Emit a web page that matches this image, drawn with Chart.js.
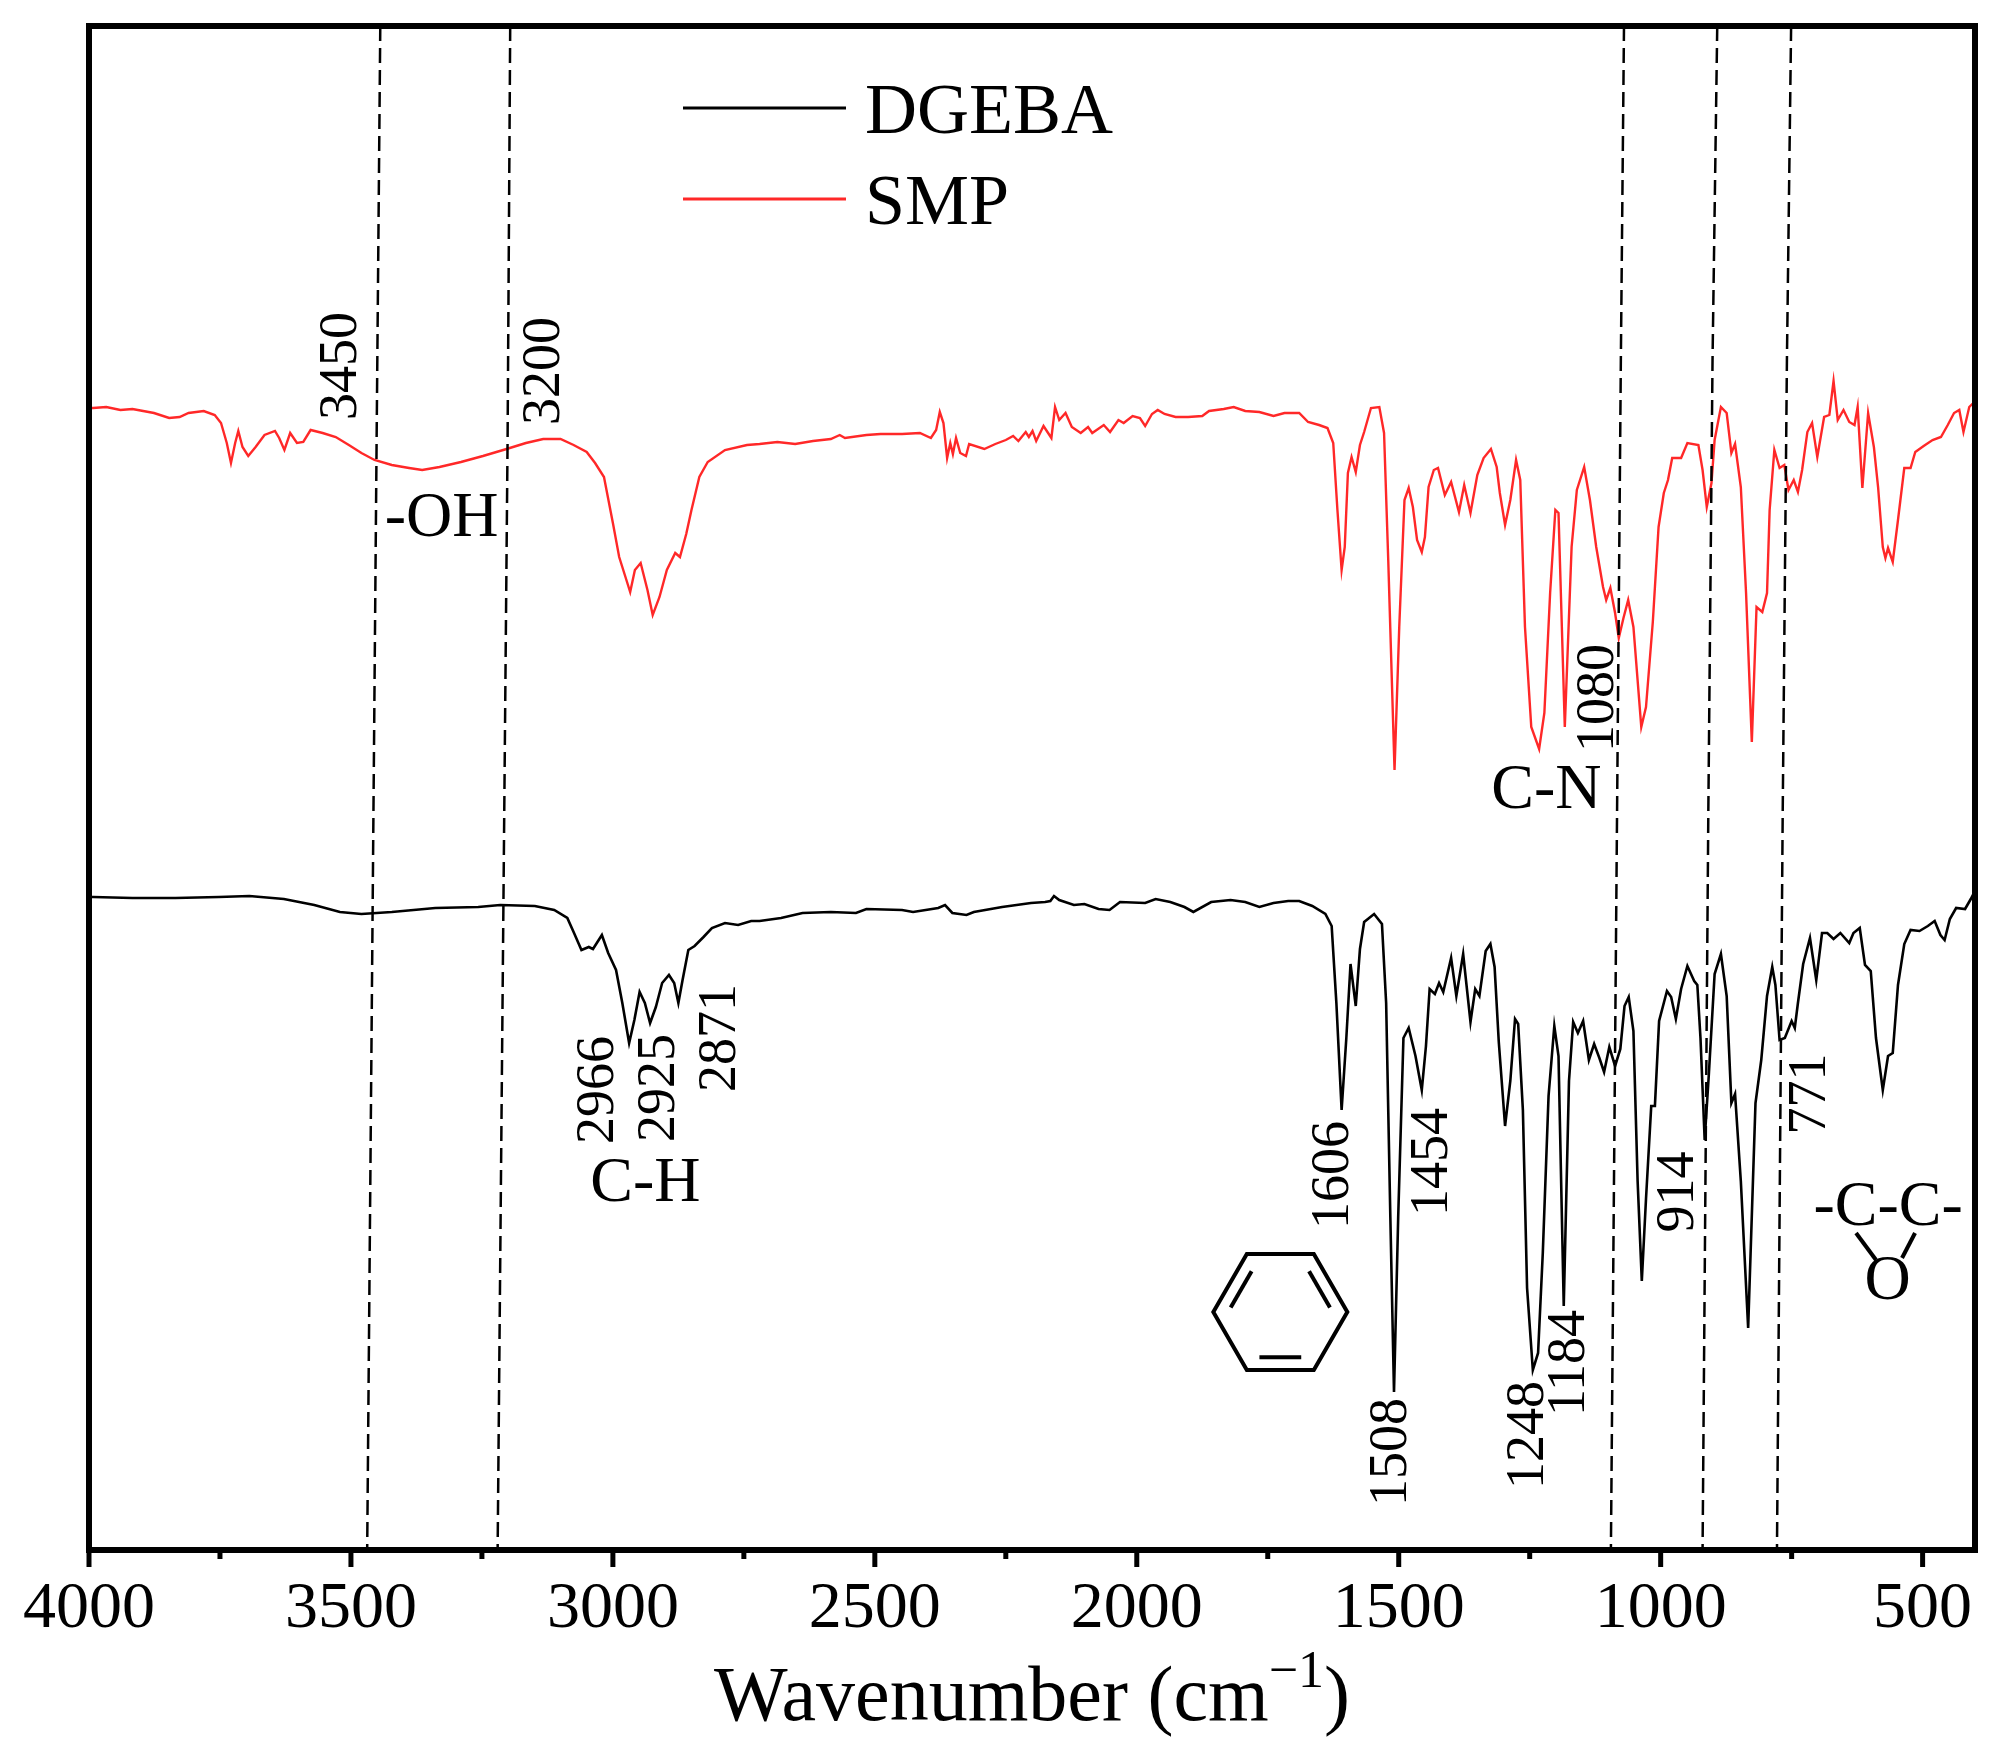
<!DOCTYPE html>
<html>
<head>
<meta charset="utf-8">
<script src="https://cdn.jsdelivr.net/npm/chart.js@4.4.1/dist/chart.umd.min.js"></script>
<style>
  html, body { margin: 0; padding: 0; background: #fff; }
</style>
</head>
<body>
<canvas id="ftir" width="2000" height="1746"></canvas>
<script>
const SERIF = '"Liberation Serif", "Times New Roman", serif';
const RED = 'rgb(255,40,40)';

/* x axis */
const tickValues = [4000, 3500, 3000, 2500, 2000, 1500, 1000, 500];
const tickLabels = ['4000', '3500', '3000', '2500', '2000', '1500', '1000', '500'];
const minorTicks = [3750, 3250, 2750, 2250, 1750, 1250, 750];

/* spectra: [wavenumber, transmittance (a.u.)] */
const smpPoints = [
  [4000,114.2],[3992,114.2],[3967,114.3],[3940,114.0],[3917,114.1],[3876,113.7],[3847,113.2],[3827,113.3],
  [3810,113.7],[3781,113.9],[3760,113.5],[3748,112.7],[3737,110.7],[3729,108.7],[3721,110.7],[3715,111.9],
  [3707,110.3],[3696,109.4],[3682,110.3],[3665,111.5],[3645,111.9],[3637,111.2],[3627,110.0],[3616,111.7],
  [3603,110.7],[3591,110.8],[3577,112.0],[3554,111.7],[3529,111.3],[3504,110.5],[3480,109.7],[3455,109.0],
  [3422,108.5],[3389,108.2],[3364,108.0],[3331,108.3],[3290,108.8],[3248,109.4],[3203,110.1],[3166,110.7],
  [3133,111.1],[3100,111.1],[3075,110.5],[3050,109.8],[3034,108.7],[3017,107.3],[3000,102.7],[2988,99.3],
  [2976,97.3],[2967,95.8],[2958,98.0],[2947,98.7],[2934,96.0],[2924,93.5],[2911,95.3],[2897,98.0],
  [2881,99.7],[2872,99.3],[2860,101.6],[2850,104.0],[2835,107.3],[2819,108.8],[2786,110.0],[2744,110.5],
  [2720,110.6],[2686,110.8],[2652,110.6],[2618,110.9],[2584,111.1],[2567,111.5],[2557,111.2],[2516,111.5],
  [2489,111.6],[2448,111.6],[2414,111.7],[2393,111.2],[2383,112.0],[2376,113.8],[2369,112.7],[2362,109.2],
  [2356,110.7],[2351,109.6],[2345,111.2],[2337,109.7],[2326,109.4],[2320,110.6],[2291,110.1],[2270,110.6],
  [2250,111.0],[2236,111.4],[2226,110.9],[2212,111.8],[2206,111.3],[2199,111.9],[2192,110.9],[2178,112.4],
  [2163,111.2],[2156,114.3],[2148,113.0],[2136,113.7],[2124,112.3],[2107,111.7],[2093,112.3],[2085,111.7],
  [2063,112.5],[2051,111.8],[2035,113.0],[2025,112.7],[2008,113.4],[1994,113.2],[1984,112.4],[1971,113.6],
  [1960,114.0],[1947,113.6],[1926,113.3],[1902,113.3],[1875,113.4],[1862,113.9],[1834,114.1],[1815,114.3],
  [1793,113.9],[1766,113.8],[1739,113.4],[1718,113.7],[1700,113.7],[1690,113.7],[1673,112.8],[1652,112.5],
  [1636,112.2],[1625,110.7],[1617,104.0],[1609,98.0],[1603,100.3],[1597,107.7],[1590,109.3],[1582,107.8],
  [1574,110.5],[1566,111.8],[1553,114.2],[1537,114.3],[1528,111.7],[1520,99.0],[1508,78.0],[1499,92.3],
  [1489,105.0],[1481,106.2],[1473,104.3],[1465,101.0],[1456,99.8],[1450,101.3],[1443,106.3],[1433,108.0],
  [1425,108.2],[1412,105.5],[1400,106.8],[1385,103.8],[1375,106.5],[1363,103.7],[1350,107.5],[1338,109.2],
  [1324,110.1],[1313,108.3],[1307,105.7],[1297,102.5],[1287,105.0],[1276,109.0],[1268,107.0],[1259,92.3],
  [1247,82.3],[1232,80.1],[1222,83.7],[1211,95.7],[1201,104.0],[1195,103.7],[1183,82.3],[1170,100.3],
  [1160,106.0],[1146,108.3],[1135,105.0],[1123,100.3],[1110,96.3],[1104,95.0],[1096,96.2],[1087,93.7],
  [1080,91.2],[1071,93.2],[1062,95.0],[1052,92.3],[1037,82.3],[1028,84.3],[1015,92.8],[1004,102.3],
  [994,105.7],[986,107.0],[978,109.2],[961,109.2],[949,110.7],[928,110.5],[920,108.0],[912,104.3],
  [903,106.7],[897,111.0],[885,114.3],[874,113.7],[865,109.7],[858,110.6],[847,106.3],[837,95.7],
  [826,80.8],[817,94.3],[806,93.8],[797,95.7],[792,104.0],[783,110.0],[773,108.2],[764,108.5],
  [756,106.0],[746,107.0],[738,105.8],[730,108.0],[720,111.8],[711,112.7],[701,109.3],[688,113.3],
  [678,113.5],[670,116.9],[662,113.0],[651,114.0],[640,112.8],[630,112.5],[624,114.3],[615,106.2],
  [604,113.7],[593,110.3],[585,106.3],[576,100.3],[571,99.2],[566,100.2],[557,98.8],[547,103.0],
  [535,108.2],[523,108.2],[514,109.8],[498,110.4],[481,111.0],[465,111.3],[452,112.5],[440,113.7],
  [430,114.0],[422,111.8],[411,114.3],[403,114.7],[400,114.8]
];

const dgebaPoints = [
  [4000,65.3],[3992,65.3],[3917,65.2],[3835,65.2],[3752,65.3],[3694,65.4],[3628,65.1],[3570,64.5],
  [3521,63.8],[3480,63.6],[3422,63.8],[3339,64.2],[3257,64.3],[3215,64.5],[3149,64.4],[3112,64.0],
  [3087,63.2],[3075,61.8],[3060,60.0],[3046,60.3],[3038,60.1],[3021,61.5],[3009,59.7],[2994,58.0],
  [2982,54.7],[2969,50.7],[2959,53.0],[2949,55.8],[2939,54.7],[2929,52.7],[2918,54.3],[2906,56.7],
  [2893,57.5],[2883,56.7],[2875,54.7],[2867,57.0],[2856,60.0],[2844,60.4],[2827,61.3],[2811,62.2],
  [2786,62.7],[2761,62.5],[2736,62.9],[2720,62.9],[2679,63.2],[2638,63.7],[2584,63.8],[2536,63.7],
  [2516,64.1],[2448,64.0],[2427,63.8],[2379,64.2],[2366,64.5],[2352,63.7],[2325,63.5],[2311,63.8],
  [2257,64.3],[2202,64.7],[2175,64.8],[2165,64.9],[2158,65.4],[2148,65.0],[2120,64.5],[2100,64.6],
  [2073,64.1],[2052,64.0],[2032,64.8],[1984,64.7],[1964,65.1],[1936,64.8],[1909,64.3],[1892,63.8],
  [1858,64.8],[1821,65.0],[1793,64.8],[1766,64.3],[1739,64.7],[1711,64.9],[1690,64.9],[1665,64.4],
  [1640,63.6],[1628,62.4],[1619,54.7],[1609,44.0],[1600,51.2],[1592,58.6],[1582,54.4],[1574,60.1],
  [1566,62.8],[1547,63.6],[1532,62.6],[1524,54.7],[1516,33.3],[1509,15.8],[1501,33.3],[1491,51.2],
  [1481,52.2],[1468,49.4],[1456,46.0],[1448,50.4],[1441,56.1],[1431,55.6],[1423,56.7],[1415,55.8],
  [1400,59.2],[1390,55.4],[1377,59.6],[1363,52.8],[1354,56.1],[1346,55.4],[1334,59.9],[1325,60.6],
  [1317,58.3],[1309,50.8],[1297,42.4],[1287,46.9],[1278,53.1],[1272,52.6],[1263,44.0],[1255,26.2],
  [1244,18.0],[1234,19.7],[1225,29.7],[1214,45.4],[1203,52.4],[1195,49.4],[1185,24.4],[1175,46.9],
  [1167,52.8],[1158,51.7],[1148,52.9],[1137,49.0],[1127,50.6],[1117,49.2],[1108,47.8],[1098,50.3],
  [1087,48.4],[1077,50.1],[1069,54.4],[1061,55.3],[1052,51.9],[1044,36.9],[1036,26.9],[1028,35.1],
  [1018,44.4],[1011,44.4],[1003,52.9],[988,55.9],[980,55.3],[971,53.1],[961,56.1],[949,58.4],
  [936,56.9],[930,56.5],[924,51.2],[916,41.0],[908,47.6],[897,57.6],[885,59.6],[874,55.4],
  [865,44.7],[858,45.6],[847,36.9],[833,22.2],[819,44.7],[808,49.0],[797,55.4],[787,58.3],
  [781,56.5],[773,51.0],[763,51.2],[750,52.9],[744,52.2],[738,54.7],[728,58.6],[715,61.2],
  [703,57.0],[692,61.7],[682,61.7],[670,61.1],[657,61.7],[640,60.7],[632,61.7],[620,62.2],
  [610,58.5],[599,57.9],[589,51.2],[576,46.0],[566,49.4],[557,49.7],[547,56.5],[535,60.6],
  [523,62.0],[506,61.9],[490,62.4],[477,62.9],[466,61.5],[458,61.0],[448,63.1],[436,64.2],
  [419,64.1],[408,65.1],[403,65.6],[400,65.8]
];

/* dashed guide lines, slightly slanted as in the figure */
const guideLines = [
  [[3444,152.4],[3451,111],[3469,0]],
  [[3196,152.4],[3201,111],[3220,0]],
  [[1070,152.4],[1076,119],[1084,69],[1095,0]],
  [[892,152.4],[901,119],[909,74],[920,0]],
  [[751,152.4],[759,119],[767,74],[778,0]]
];

/* peak labels (rotated) and group labels: [text, wavenumber, value] */
const peakLabels = [
  ['3450',3518,118.4],['3200',3129,117.9],['2966',3026,46.0],['2925',2910,46.2],['2871',2794,51.2],
  ['1606',1623,37.5],['1508',1514,9.8],['1454',1434,38.8],['1248',1251,11.5],['1184',1173,18.7],
  ['1080',1119,85.2],['914',965,35.8],['771',713,45.6]
];
const groupLabels = [
  ['-OH',3327,103.1],['C-H',2938,36.6],['C-N',1218,75.9],['-C-C-',566,34.2],['O',567,26.8]
];
const benzeneAt = [1726, 23.8];
const epoxideAt = [566, 34.2];

const series = [
  {label: 'DGEBA', color: '#000', points: dgebaPoints, width: 2.6},
  {label: 'SMP', color: RED, points: smpPoints, width: 2.4}
];

const toXY = pts => pts.map(p => ({x: p[0], y: p[1]}));

const datasets = guideLines.map(g => ({
  data: toXY(g), borderColor: '#000', borderWidth: 2.5, borderDash: [15, 7],
  pointRadius: 0, tension: 0
})).concat(series.map(s => ({
  label: s.label, data: toXY(s.points), borderColor: s.color, borderWidth: s.width,
  pointRadius: 0, tension: 0
})));

function line(ctx, x1, y1, x2, y2){
  ctx.beginPath(); ctx.moveTo(x1, y1); ctx.lineTo(x2, y2); ctx.stroke();
}

const decor = {
  id: 'decor',
  afterDraw(chart){
    const {ctx, chartArea: a, scales: {x, y}} = chart;
    ctx.save();
    ctx.strokeStyle = '#000';
    ctx.fillStyle = '#000';

    // frame and tick marks
    ctx.lineWidth = 6;
    ctx.strokeRect(a.left, a.top, a.right - a.left, a.bottom - a.top);
    ctx.lineWidth = 5;
    tickValues.forEach(v => { const px = x.getPixelForValue(v); line(ctx, px, a.bottom, px, a.bottom + 17); });
    minorTicks.forEach(v => { const px = x.getPixelForValue(v); line(ctx, px, a.bottom, px, a.bottom + 9); });

    // legend
    series.forEach((s, i) => {
      const ly = a.top + 82 + i * 91;
      ctx.strokeStyle = s.color;
      ctx.lineWidth = 3;
      line(ctx, a.left + 594, ly, a.left + 757, ly);
      ctx.font = '72px ' + SERIF;
      ctx.textAlign = 'left';
      ctx.textBaseline = 'alphabetic';
      ctx.fillText(s.label, a.left + 776, ly + 25);
    });
    ctx.strokeStyle = '#000';

    // peak labels
    ctx.font = '54px ' + SERIF;
    ctx.textAlign = 'center';
    ctx.textBaseline = 'middle';
    peakLabels.forEach(([t, wn, v]) => {
      ctx.save();
      ctx.translate(x.getPixelForValue(wn), y.getPixelForValue(v));
      ctx.rotate(-Math.PI / 2);
      ctx.fillText(t, 0, 0);
      ctx.restore();
    });
    ctx.font = '64px ' + SERIF;
    groupLabels.forEach(([t, wn, v]) => ctx.fillText(t, x.getPixelForValue(wn), y.getPixelForValue(v)));

    // epoxide ring bonds
    const ex = x.getPixelForValue(epoxideAt[0]), ey = y.getPixelForValue(epoxideAt[1]);
    ctx.lineWidth = 4;
    line(ctx, ex - 32, ey + 25, ex - 12, ey + 52);
    line(ctx, ex + 27, ey + 25, ex + 14, ey + 50);

    // benzene ring
    const bx = x.getPixelForValue(benzeneAt[0]), by = y.getPixelForValue(benzeneAt[1]);
    const R = 67;
    const verts = [0, 60, 120, 180, 240, 300].map(d => {
      const r = d * Math.PI / 180;
      return [bx + R * Math.cos(r), by + R * Math.sin(r)];
    });
    ctx.lineWidth = 4;
    ctx.lineJoin = 'miter';
    ctx.beginPath();
    verts.forEach((p, i) => i ? ctx.lineTo(p[0], p[1]) : ctx.moveTo(p[0], p[1]));
    ctx.closePath();
    ctx.stroke();
    // inner bonds: bottom edge, upper-left edge, upper-right edge
    [[1, 2], [3, 4], [5, 0]].forEach(([i, j]) => {
      const A = verts[i].map((c, k) => [bx, by][k] + (c - [bx, by][k]) * 0.78);
      const B = verts[j].map((c, k) => [bx, by][k] + (c - [bx, by][k]) * 0.78);
      const f = 0.1;
      line(ctx, A[0] + (B[0] - A[0]) * f, A[1] + (B[1] - A[1]) * f,
                A[0] + (B[0] - A[0]) * (1 - f), A[1] + (B[1] - A[1]) * (1 - f));
    });

    // axis title with superscript
    const base = a.bottom + 170;
    ctx.textAlign = 'left';
    ctx.textBaseline = 'alphabetic';
    const big = '78px ' + SERIF, small = '52px ' + SERIF;
    const t1 = 'Wavenumber (cm', t2 = '\u22121', t3 = ')';
    ctx.font = big; const w1 = ctx.measureText(t1).width, w3 = ctx.measureText(t3).width;
    ctx.font = small; const w2 = ctx.measureText(t2).width;
    let sx = (a.left + a.right) / 2 - (w1 + w2 + w3) / 2;
    ctx.font = big; ctx.fillText(t1, sx, base); sx += w1;
    ctx.font = small; ctx.fillText(t2, sx, base - 33); sx += w2;
    ctx.font = big; ctx.fillText(t3, sx, base);

    ctx.restore();
  }
};

new Chart(document.getElementById('ftir'), {
  type: 'line',
  data: {datasets: datasets},
  plugins: [decor],
  options: {
    responsive: false,
    devicePixelRatio: 1,
    animation: false,
    layout: {padding: {left: 89, right: 25, top: 26, bottom: 0}},
    plugins: {legend: {display: false}, tooltip: {enabled: false}, title: {display: false}},
    scales: {
      x: {
        type: 'linear', reverse: true, min: 400, max: 4000,
        grid: {display: false, drawTicks: false},
        border: {display: false},
        afterBuildTicks: s => { s.ticks = tickValues.map(v => ({value: v})); },
        afterFit: s => { s.height = 196; },
        ticks: {
          autoSkip: false, maxRotation: 0, padding: 20, color: '#000',
          font: {family: SERIF, size: 66},
          callback: (v, i) => tickLabels[i]
        }
      },
      y: {display: false, min: 0, max: 152.4}
    }
  }
});
</script>
</body>
</html>
